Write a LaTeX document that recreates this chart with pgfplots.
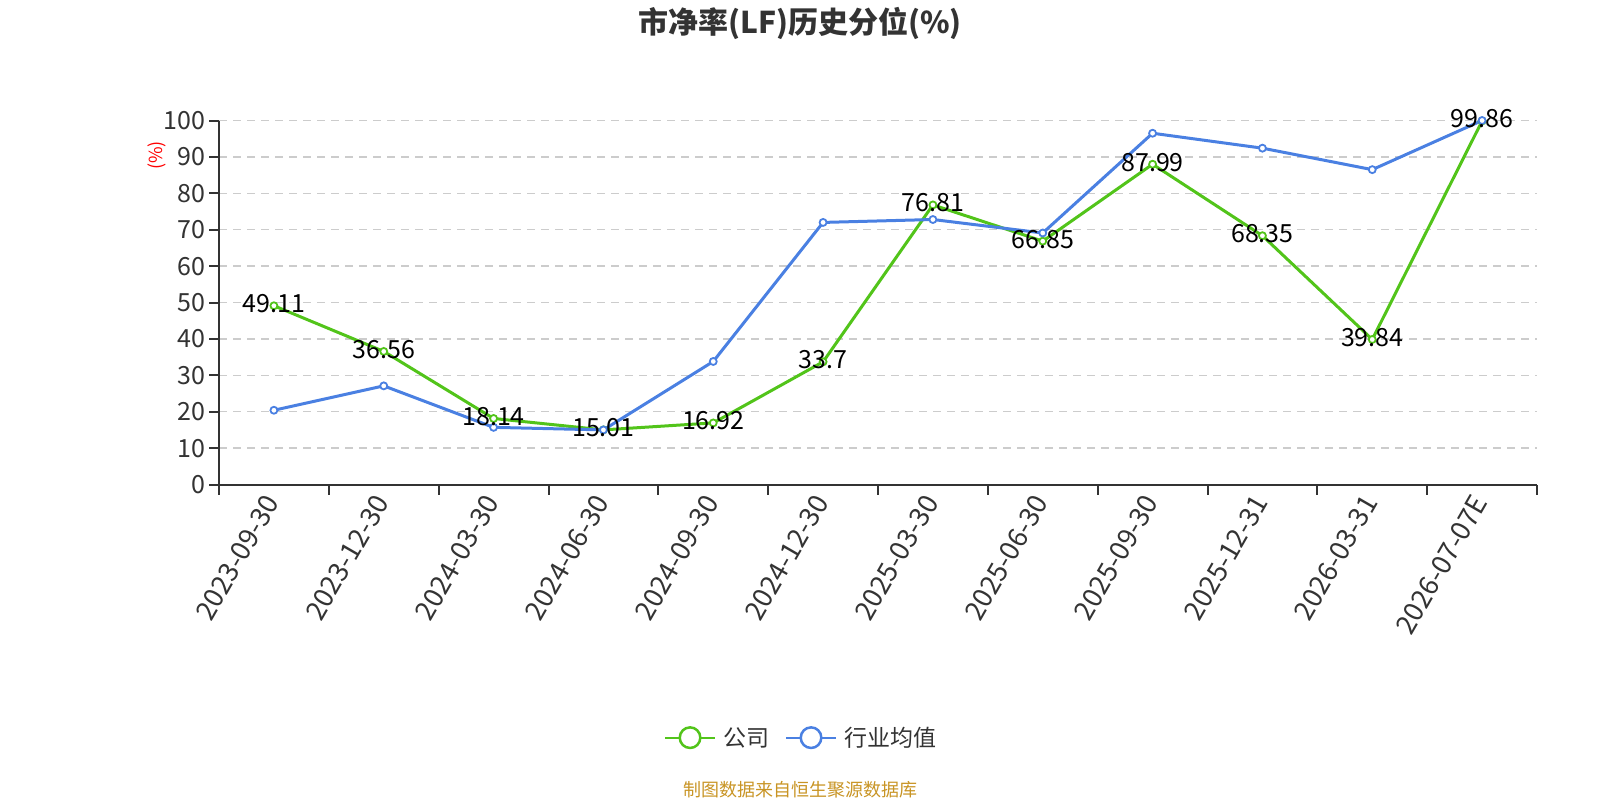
\documentclass[border=0pt]{standalone}
\usepackage{fontspec}
\setmainfont{Noto Sans CJK SC}
\usepackage{pgfplots}
\pgfplotsset{compat=1.18}
\definecolor{cgreen}{RGB}{82,196,26}
\definecolor{cblue}{RGB}{74,128,226}
\definecolor{ctext}{RGB}{51,51,51}
\definecolor{cgrid}{RGB}{204,204,204}
\definecolor{cfoot}{RGB}{200,148,36}
\begin{document}
\begin{tikzpicture}[x=1pt,y=1pt]
\useasboundingbox (0,0) rectangle (1600,-800);
\node[font=\fontsize{30}{36}\selectfont\bfseries, text=ctext] at (800,-23) {市净率(LF)历史分位(\%)};
\node[font=\fontsize{18}{22}\selectfont, text=cfoot] at (800,-790) {制图数据来自恒生聚源数据库};
\node[font=\fontsize{18}{21}\selectfont, text=red, rotate=90] at (156.5,-155.5) {(\%)};
\begin{axis}[
  at={(219pt,-484.5pt)}, anchor=south west,
  scale only axis, width=1318pt, height=364pt,
  xmin=-0.5, xmax=11.5, ymin=0, ymax=100,
  clip=false,
  axis lines=left, axis line style={-, draw=ctext, line width=2pt},
  /pgf/number format/assume math mode=true,
  xtick={0,...,11},
  xticklabels={2023-09-30,2023-12-30,2024-03-30,2024-06-30,2024-09-30,2024-12-30,2025-03-30,2025-06-30,2025-09-30,2025-12-31,2026-03-31,2026-07-07E},
  minor xtick={-0.5,0.5,...,11.5},
  ytick={0,10,...,100},
  tick align=outside,
  major tick length=10pt, minor tick length=10pt,
  every major x tick/.style={draw=none},
  every minor x tick/.style={draw=ctext, line width=2pt},
  every major y tick/.style={draw=ctext, line width=2pt},
  xticklabel style={rotate=60, anchor=east, font=\fontsize{27}{31}\selectfont, text=ctext},
  yticklabel style={font=\fontsize{25}{29}\selectfont, text=ctext},
  ymajorgrids,
  major grid style={draw=cgrid, dash pattern=on 8pt off 6pt, line width=1.5pt},
  legend style={at={(0.4416,-0.6955)}, anchor=center, draw=none, fill=none,
    legend columns=-1, font=\fontsize{23}{27}\selectfont, text=ctext,
    /tikz/every odd column/.append style={column sep=5pt},
    /tikz/every even column/.append style={column sep=14pt}},
]
\addlegendimage{legend image code/.code={\draw[cgreen, line width=2pt] (0pt,0pt) -- (50pt,0pt); \draw[cgreen, line width=2.5pt, fill=white] (25pt,0pt) circle (10.3pt);}}
\addlegendentry{公司}
\addlegendimage{legend image code/.code={\draw[cblue, line width=2pt] (0pt,0pt) -- (50pt,0pt); \draw[cblue, line width=2.5pt, fill=white] (25pt,0pt) circle (10.3pt);}}
\addlegendentry{行业均值}
\addplot[cgreen, line width=3pt, mark=*, mark size=3.5pt, mark options={fill=white, draw=cgreen, line width=1.8pt, solid}, forget plot] coordinates {
(0,49.11) (1,36.56) (2,18.14) (3,15.01) (4,16.92) (5,33.7) (6,76.81) (7,66.85) (8,87.99) (9,68.35) (10,39.84) (11,99.86)};
\addplot[cblue, line width=3pt, mark=*, mark size=3.5pt, mark options={fill=white, draw=cblue, line width=1.8pt, solid}, forget plot] coordinates {
(0,20.4) (1,27.1) (2,15.7) (3,15.0) (4,33.8) (5,72.0) (6,72.8) (7,69.1) (8,96.5) (9,92.4) (10,86.5) (11,100.0)};
\addplot[draw=none, mark=none, forget plot, nodes near coords, point meta=explicit symbolic,
  nodes near coords align={center},
  every node near coord/.append style={anchor=center, yshift=2pt, font=\fontsize{25}{29}\selectfont, text=black}] coordinates {
(0,49.11)[49.11] (1,36.56)[36.56] (2,18.14)[18.14] (3,15.01)[15.01] (4,16.92)[16.92] (5,33.7)[33.7] (6,76.81)[76.81] (7,66.85)[66.85] (8,87.99)[87.99] (9,68.35)[68.35] (10,39.84)[39.84] (11,99.86)[99.86]};
\end{axis}
\end{tikzpicture}
\end{document}
